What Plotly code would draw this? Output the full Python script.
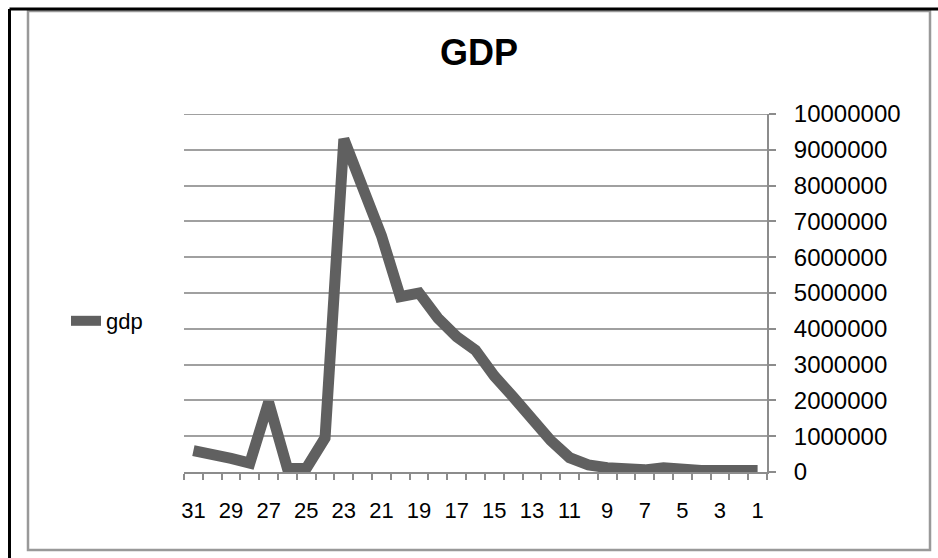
import plotly.graph_objects as go

categories = list(range(31, 0, -1))
gdp = [600000, 520000, 380000, 250000, 1950000, 100000, 100000, 950000,
       9300000, 7950000, 6600000, 4900000, 5000000, 4300000, 3780000, 3400000,
       2680000, 2100000, 1450000, 880000, 400000, 200000, 120000, 80000,
       60000, 120000, 50000, 40000, 40000, 40000, 40000]
x_tick_labels = [str(c) for c in range(31, 0, -2)]
y_ticks = list(range(0, 10000001, 1000000))

W, H = 938, 558
L, R, T, B = 184, 767, 114, 472

def px(x):
    return (x - L) / (R - L)

def py(y):
    return (B - y) / (B - T)

fig = go.Figure()
fig.add_trace(go.Scatter(
    x=categories, y=gdp, mode="lines", name="gdp",
    line=dict(color="#606060", width=11), cliponaxis=False,
))

font = "Liberation Sans, Arial, sans-serif"
fig.update_layout(
    width=W, height=H,
    margin=dict(l=L, r=W - R, t=T, b=H - B, pad=0),
    paper_bgcolor="white", plot_bgcolor="white",
    title=dict(text="<b>GDP</b>", x=479 / W, xanchor="center",
               y=1 - 52 / H, yanchor="middle",
               font=dict(family=font, size=36, color="black")),
    font=dict(family=font, size=22, color="black"),
    showlegend=True,
    legend=dict(x=px(66), xanchor="left", y=py(321), yanchor="middle",
                font=dict(size=22, color="black"), bgcolor="rgba(0,0,0,0)",
                itemwidth=30),
    xaxis=dict(
        range=[31.5, 0.5], tickmode="array",
        tickvals=list(range(31, 0, -2)), ticktext=x_tick_labels,
        ticks="", showgrid=False, zeroline=False,
        showline=True, linecolor="#8c8c8c", linewidth=2,
        ticklabelstandoff=18,
        tickfont=dict(size=22, color="black"),
        minor=dict(tickmode="linear", tick0=0.5, dtick=1, ticks="outside",
                   ticklen=6, tickcolor="#8c8c8c", tickwidth=1.5, showgrid=False),
    ),
    yaxis=dict(
        range=[0, 10000000], side="right", tickmode="array",
        tickvals=y_ticks, ticktext=[str(v) for v in y_ticks],
        showgrid=True, gridcolor="#a0a0a0", gridwidth=2,
        zeroline=False, showline=True, linecolor="#8c8c8c", linewidth=2,
        ticks="outside", ticklen=7, tickcolor="#8c8c8c", tickwidth=2,
        ticklabelstandoff=13,
        tickfont=dict(size=24, color="black"),
    ),
    shapes=[
        dict(type="line", xref="paper", yref="y",
             x0=0, x1=1, y0=y_ticks[-1], y1=y_ticks[-1],
             line=dict(color="#a0a0a0", width=2), layer="below"),
        dict(type="rect", xref="paper", yref="paper",
             x0=px(28), x1=px(930), y0=py(550), y1=py(11),
             line=dict(color="#999999", width=2.5), layer="below"),
        dict(type="line", xref="paper", yref="paper",
             x0=px(9.5), x1=px(940), y0=py(9), y1=py(9),
             line=dict(color="black", width=3)),
        dict(type="line", xref="paper", yref="paper",
             x0=px(9.5), x1=px(9.5), y0=py(9), y1=py(560),
             line=dict(color="black", width=3)),
    ],
)

fig.write_html("out.html", config={"displayModeBar": False},
               post_script="document.body.style.margin='0px';document.body.style.overflow='hidden';")
